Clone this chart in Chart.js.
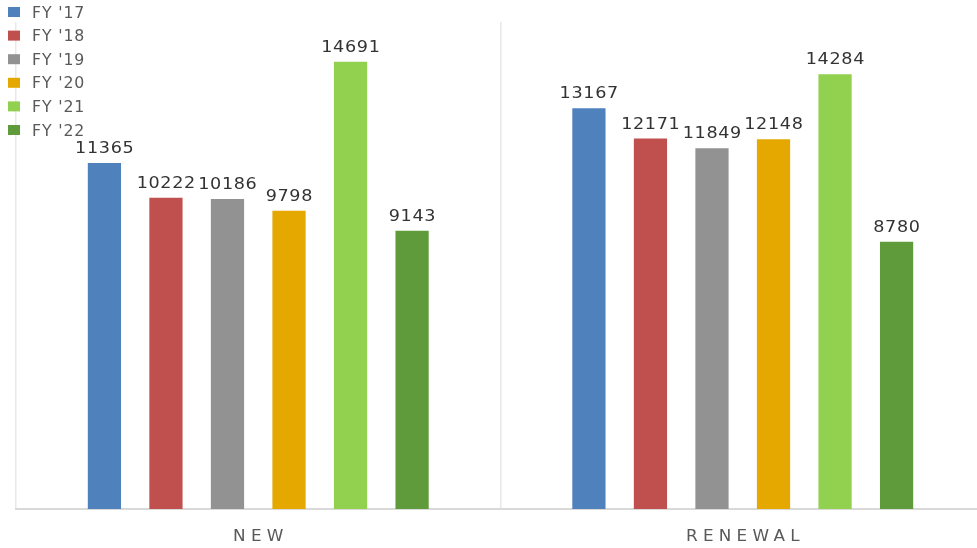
<!DOCTYPE html>
<html lang="en">
<head>
    <meta charset="UTF-8">
    <title>New vs Renewal by fiscal year</title>
    <script src="https://cdn.jsdelivr.net/npm/chart.js"></script>
    <style>
        html, body { margin: 0; padding: 0; background: #fff; overflow: hidden; }
        /* the original plot is cut off a few px past the right edge */
        #wrap { width: 985px; height: 548px; }
    </style>
</head>
<body>
    <div id="wrap"><canvas id="chart"></canvas></div>
    <script>
        // data
        const categories = ['NEW', 'RENEWAL'];
        const seriesNames = ["FY '17", "FY '18", "FY '19", "FY '20", "FY '21", "FY '22"];
        const fy17 = [11365, 13167];
        const fy18 = [10222, 12171];
        const fy19 = [10186, 11849];
        const fy20 = [9798, 12148];
        const fy21 = [14691, 14284];
        const fy22 = [9143, 8780];
        const colors = ['#4F81BD', '#C0504D', '#929292', '#E5A800', '#92D050', '#5F9A3B'];

        const seriesValues = [fy17, fy18, fy19, fy20, fy21, fy22];

        // the original text is stretched sideways, so draw it scaled on x
        function wideText(ctx, text, x, y, k, spacing, align) {
            ctx.save();
            ctx.letterSpacing = spacing + 'px';
            ctx.textAlign = align;
            ctx.translate(x + (align === 'center' ? spacing * k / 2 : 0), y);
            ctx.scale(k, 1);
            ctx.fillText(text, 0, 0);
            ctx.restore();
        }

        const extras = {
            id: 'extras',
            afterDatasetsDraw(chart) {
                const ctx = chart.ctx;
                ctx.save();
                ctx.textBaseline = 'alphabetic';

                // value labels
                ctx.font = '16px "DejaVu Sans"';
                ctx.fillStyle = '#333333';
                chart.data.datasets.forEach((ds, i) => {
                    chart.getDatasetMeta(i).data.forEach((bar, j) => {
                        wideText(ctx, String(ds.data[j]), bar.x, bar.y - 10, 1.1, 0.6, 'center');
                    });
                });

                // category labels under the axis
                const x = chart.scales.x;
                ctx.font = '16px "DejaVu Sans"';
                ctx.fillStyle = '#595959';
                categories.forEach((c, i) => {
                    wideText(ctx, c, x.getPixelForValue(i), 541, 1.05, 5, 'center');
                });

                // legend, top left over the plot
                ctx.font = '15px "DejaVu Sans"';
                chart.data.datasets.forEach((ds, i) => {
                    const y = 12 + i * 23.6;
                    ctx.fillStyle = ds.backgroundColor;
                    ctx.fillRect(8, y - 5, 12, 10);
                    ctx.fillStyle = '#595959';
                    wideText(ctx, ds.label, 32, y + 5.5, 1.05, 0.8, 'left');
                });
                ctx.restore();
            }
        };

        new Chart(document.getElementById('chart'), {
            type: 'bar',
            data: {
                labels: categories,
                datasets: seriesNames.map((name, i) => ({
                    label: name,
                    data: seriesValues[i],
                    backgroundColor: colors[i],
                    borderWidth: 0,
                    categoryPercentage: 0.762,
                    barPercentage: 0.54
                }))
            },
            options: {
                responsive: true,
                maintainAspectRatio: false,
                animation: false,
                layout: { padding: { left: 16, right: 0, top: 22, bottom: 39 } },
                plugins: {
                    legend: { display: false },
                    tooltip: { enabled: false }
                },
                scales: {
                    x: {
                        grid: { display: true, offset: true, color: '#e8e8e8', lineWidth: 1.5, drawTicks: false },
                        border: { display: true, color: '#d9d9d9', width: 2 },
                        ticks: { display: false }
                    },
                    y: {
                        display: false,
                        min: 0,
                        max: 16000
                    }
                }
            },
            plugins: [extras]
        });
    </script>
</body>
</html>
